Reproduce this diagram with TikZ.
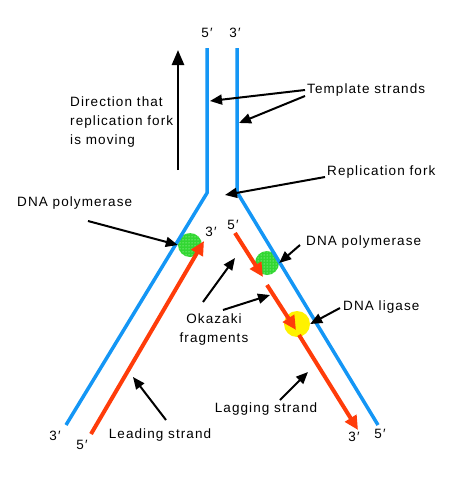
\documentclass[tikz,border=0pt]{standalone}
\usepackage{fontspec}
\setmainfont{Liberation Sans}[LetterSpace=8]
\usetikzlibrary{arrows.meta,patterns}
\definecolor{strandblue}{RGB}{20,150,245}
\definecolor{newred}{RGB}{255,60,10}
\definecolor{polgreen}{RGB}{50,215,50}

\begin{document}
\begin{tikzpicture}[x=1pt,y=-1pt,
  lbl/.style={font=\fontsize{13.5}{19}\selectfont,inner sep=0pt},
  pointer/.style={line width=2pt,-{Triangle[length=12pt,width=10pt]}},
  template/.style={strandblue,line width=3.5pt},
  daughter/.style={newred,line width=4pt},
  okazaki/.style={daughter,-{Triangle[length=14pt,width=13pt]}},
  enzyme/.style={circle,minimum size=24pt,inner sep=0pt},
  dotty/.style={postaction={pattern=dots,pattern color=green!15}}
]
\useasboundingbox (0,0) rectangle (449,477);

% enzymes
\node[enzyme,fill=polgreen,dotty] (polL) at (190,245) {};
\node[enzyme,fill=polgreen,dotty] (polR) at (267,263) {};
\node[enzyme,fill=yellow,minimum size=26pt] (ligase) at (297,324) {};

% template strands
\coordinate (topL) at (207,48);
\coordinate (forkL) at (207,193);
\coordinate (endL) at (66,425);
\coordinate (topR) at (237,48);
\coordinate (forkR) at (237,192);
\coordinate (endR) at (378,425);
\draw[template] (topL) -- (forkL) -- (endL);
\draw[template] (topR) -- (forkR) -- (endR);

% new strands
\coordinate (lead5) at (91,434);
\coordinate (lead3) at (204,241);
\draw[okazaki] (lead5) -- (lead3);
\coordinate (frag1a) at (235,233);
\coordinate (frag1b) at (263,277);
\coordinate (frag2a) at (267,285);
\coordinate (frag2b) at (296,330);
\coordinate (frag3a) at (299,335);
\coordinate (frag3b) at (358,430);
\draw[okazaki] (frag1a) -- (frag1b);
\draw[okazaki] (frag2a) -- (frag2b);
\draw[okazaki] (frag3a) -- (frag3b);

% end labels
\node[lbl] (p5top) at (207,33) {5′};
\node[lbl] (p3top) at (235,33) {3′};
\node[lbl] (p3lead) at (211,232) {3′};
\node[lbl] (p5lag) at (233,225) {5′};
\node[lbl] (p3bl) at (55,436) {3′};
\node[lbl] (p5bl) at (82,445) {5′};
\node[lbl] (p3br) at (354,437) {3′};
\node[lbl] (p5br) at (380,434) {5′};

% direction of the fork
\coordinate (dirtail) at (178,170);
\coordinate (dirhead) at (178,50);
\draw[line width=2.5pt,-{Triangle[length=15pt,width=12pt]}] (dirtail) -- (dirhead);
\node[lbl,align=left,anchor=north west] (dir) at (70,97)
  {Direction that\\replication fork\\is moving};

% callouts
\node[lbl,anchor=west] (tmpl) at (307,90) {Template strands};
\node[lbl,anchor=west] (fork) at (327,172) {Replication fork};
\node[lbl,anchor=west] (polLtxt) at (17,203) {DNA polymerase};
\node[lbl,anchor=west] (polRtxt) at (306,242) {DNA polymerase};
\node[lbl,anchor=west] (ligtxt) at (343,307) {DNA ligase};
\node[lbl,align=center] (okz) at (214,330) {Okazaki\\fragments};
\node[lbl] (leadtxt) at (160,435) {Leading strand};
\node[lbl] (lagtxt) at (266,409) {Lagging strand};

\coordinate (tmplA) at (210,101);
\coordinate (tmplB) at (239,123);
\draw[pointer] (305,90) -- (tmplA);
\draw[pointer] (305,96) -- (tmplB);
\draw[pointer] (325,177) -- (225,195);
\draw[pointer] (88,221) -- (polL.west);
\draw[pointer] (300,245) -- (polR.east);
\draw[pointer] (340,308) -- (ligase.east);
\draw[pointer] (203,302) -- (235,258);
\draw[pointer] (223,310) -- (270,295);
\draw[pointer] (166,420) -- (133,377);
\draw[pointer] (280,400) -- (308,372);
\end{tikzpicture}
\end{document}
